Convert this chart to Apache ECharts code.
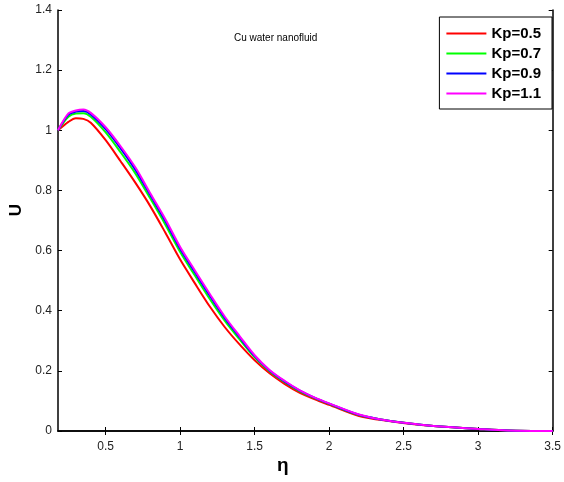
<!DOCTYPE html>
<html><head><meta charset="utf-8">
<script src="https://cdn.jsdelivr.net/npm/echarts@6/dist/echarts.min.js"></script>
<style>html,body{margin:0;padding:0;background:#fff}#c{width:564px;height:482px}</style>
</head><body><div id="c"></div>
<script>
const eta = [0.18,0.25,0.3,0.35,0.4,0.5,0.6,0.7,0.8,0.9,1.0,1.1,1.2,1.3,1.4,1.5,1.6,1.7,1.8,1.9,2.0,2.2,2.4,2.6,2.8,3.0,3.2,3.5];
const kp05 = [1.0,1.028,1.040,1.038,1.025,0.967,0.897,0.825,0.747,0.660,0.570,0.490,0.413,0.345,0.287,0.235,0.192,0.157,0.128,0.106,0.087,0.050,0.033,0.021,0.013,0.007,0.002,0.0];
const kp07 = [1.0,1.045,1.056,1.057,1.045,0.993,0.927,0.856,0.773,0.687,0.595,0.516,0.438,0.366,0.304,0.245,0.199,0.163,0.133,0.110,0.090,0.053,0.034,0.022,0.013,0.007,0.002,0.0];
const kp09 = [1.0,1.052,1.062,1.064,1.053,1.004,0.940,0.868,0.784,0.698,0.606,0.527,0.449,0.375,0.311,0.249,0.201,0.165,0.135,0.111,0.091,0.054,0.034,0.022,0.013,0.007,0.002,0.0];
const kp11 = [1.0,1.056,1.066,1.069,1.058,1.010,0.947,0.876,0.790,0.705,0.612,0.533,0.455,0.380,0.315,0.252,0.203,0.167,0.136,0.112,0.092,0.055,0.034,0.022,0.013,0.007,0.002,0.0];
const names = ['Kp=0.5','Kp=0.7','Kp=0.9','Kp=1.1'];
const colors = ['#ff0000','#00ff00','#0000ff','#ff00ff'];
const xTicks = [0.5,1,1.5,2,2.5,3,3.5];
const yTicks = [0,0.2,0.4,0.6,0.8,1,1.2,1.4];

const font = 'Arial, "Liberation Sans", sans-serif';
const allData = [kp05,kp07,kp09,kp11];
const chart = echarts.init(document.getElementById('c'));
const axisLine = {show:true, lineStyle:{color:'#000', width:1.5}};
chart.setOption({
  animation:false,
  backgroundColor:'#fff',
  grid:{left:58, right:8, top:10, bottom:51},
  title:{text:'Cu water nanofluid', left:229, top:28, textStyle:{fontSize:10, fontWeight:'normal', color:'#000', fontFamily:font}},
  legend:{
    orient:'vertical', right:12, top:17, data:names, icon:'rect',
    borderColor:'#000', borderWidth:1, backgroundColor:'#fff',
    padding:[9,11,8,7], itemWidth:40, itemHeight:2, itemGap:5,
    textStyle:{fontSize:15, lineHeight:15, fontWeight:'bold', color:'#000', fontFamily:font, padding:[0,0,0,0]}
  },
  xAxis:[{
    type:'value', min:0.18, max:3.5, position:'bottom',
    axisLine:axisLine, splitLine:{show:false},
    axisTick:{show:true, inside:true, length:4, customValues:xTicks, lineStyle:{color:'#000'}},
    axisLabel:{customValues:xTicks, color:'#222', fontSize:12, fontFamily:font, margin:10,
      formatter:v=>String(v)}
  },{
    type:'value', min:0.18, max:3.5, position:'top',
    axisLine:axisLine, splitLine:{show:false},
    axisTick:{show:true, inside:true, length:4, customValues:xTicks, lineStyle:{color:'#000'}},
    axisLabel:{show:false}
  }],
  yAxis:[{
    type:'value', min:0, max:1.4, interval:0.2, position:'left',
    axisLine:axisLine, splitLine:{show:false},
    axisTick:{show:true, inside:true, length:4, lineStyle:{color:'#000'}},
    axisLabel:{color:'#222', fontSize:12, fontFamily:font, margin:6,
      formatter:v=>String(Math.round(v*10)/10)}
  },{
    type:'value', min:0, max:1.4, interval:0.2, position:'right',
    axisLine:axisLine, splitLine:{show:false},
    axisTick:{show:true, inside:true, length:4, lineStyle:{color:'#000'}},
    axisLabel:{show:false}
  }],
  graphic:[
    {type:'text', left:8, top:204, rotation:Math.PI/2, style:{text:'U', font:'bold 17px '+font, fill:'#000'}},
    {type:'text', left:277, top:456, style:{text:'η', font:'bold 19px '+font, fill:'#000'}}
  ],
  series: allData.map((d,i)=>({
    name:names[i], type:'line', symbol:'none', smooth:0.3,
    xAxisIndex:0, yAxisIndex:0,
    lineStyle:{color:colors[i], width:2}, itemStyle:{color:colors[i]},
    data: eta.map((x,j)=>[x,d[j]]), z:2+i
  }))
});
</script></body></html>
